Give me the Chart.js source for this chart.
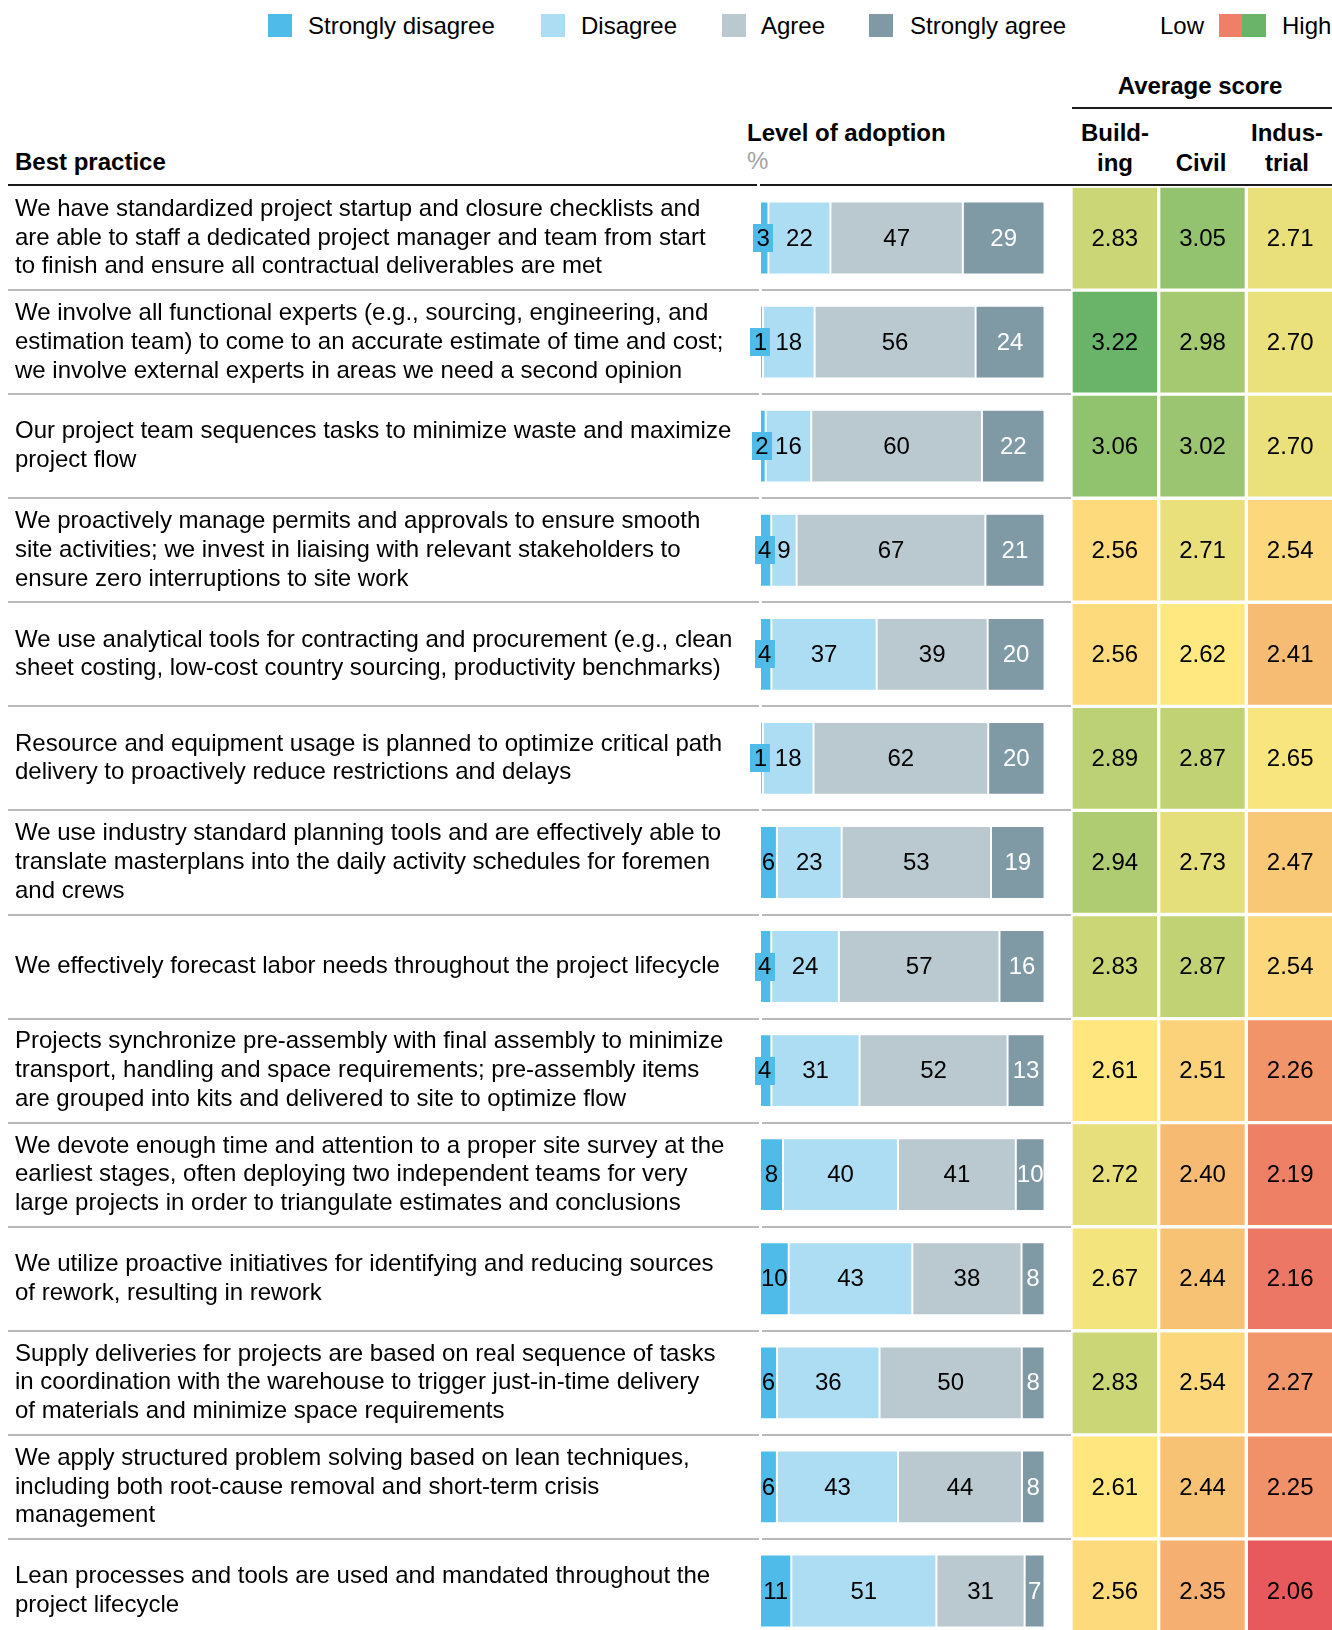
<!DOCTYPE html>
<html>
<head>
<meta charset="utf-8">
<title>Best practice adoption</title>
<script src="https://cdn.jsdelivr.net/npm/chart.js@4.4.1/dist/chart.umd.min.js"></script>
<style>
  html, body { margin: 0; padding: 0; background: #fff; overflow: hidden; }
  body { width: 1332px; height: 1630px; position: relative; font-family: "Liberation Sans", Arial, sans-serif; font-size: 24px; color: #000; }
  .t { position: absolute; white-space: nowrap; line-height: 24px; }
  .b { font-weight: bold; }
  .sw { position: absolute; top: 14px; width: 24px; height: 23px; }
  .rule { position: absolute; height: 2px; background: #1a1a1a; }
  .col { position: absolute; top: 118px; width: 90px; text-align: center; font-weight: bold; line-height: 29.5px; }
  #barWrap { position: absolute; left: 0; top: 186px; }
  #heatWrap { position: absolute; left: 1071px; top: 186px; }
</style>
</head>
<body>

<!-- legend -->
<div class="sw" style="left:268px; background:#4FBBE8"></div><div class="t" style="left:308px; top:14px">Strongly disagree</div>
<div class="sw" style="left:541px; background:#ADDDF3"></div><div class="t" style="left:581px; top:14px">Disagree</div>
<div class="sw" style="left:722px; background:#BAC8CF"></div><div class="t" style="left:761px; top:14px">Agree</div>
<div class="sw" style="left:869px; background:#7F99A5"></div><div class="t" style="left:910px; top:14px">Strongly agree</div>
<div class="t" style="left:1160px; top:14px">Low</div>
<div class="sw" style="left:1219px; width:23px; background:#EF7F67"></div>
<div class="sw" style="left:1242px; background:#69B468"></div>
<div class="t" style="left:1282px; top:14px">High</div>

<!-- column headers -->
<div class="t b" style="left:1070px; width:260px; text-align:center; top:74px">Average score</div>
<div class="rule" style="left:1072px; width:260px; top:107px"></div>
<div class="t b" style="left:15px; top:150px">Best practice</div>
<div class="t b" style="left:747px; top:121px">Level of adoption</div>
<div class="t" style="left:747px; top:149px; color:#a3a3a3">%</div>
<div class="col" style="left:1070px">Build-<br>ing</div>
<div class="col" style="left:1156px"><br>Civil</div>
<div class="col" style="left:1242px">Indus-<br>trial</div>
<div class="rule" style="left:8px; width:749px; top:184px"></div>
<div class="rule" style="left:760px; width:572px; top:184px"></div>

<div id="barWrap"><canvas id="adoption" width="1073" height="1457" style="width:1073px;height:1457px"></canvas></div>
<div id="heatWrap"><canvas id="scores" width="263" height="1457" style="width:263px;height:1457px"></canvas></div>

<script>
const FONT = '"Liberation Sans", Arial, sans-serif';
Chart.defaults.font.family = FONT;

// best practices, one entry per row (already broken into lines)
const practices = [
  ["We have standardized project startup and closure checklists and", "are able to staff a dedicated project manager and team from start", "to finish and ensure all contractual deliverables are met"],
  ["We involve all functional experts (e.g., sourcing, engineering, and", "estimation team) to come to an accurate estimate of time and cost;", "we involve external experts in areas we need a second opinion"],
  ["Our project team sequences tasks to minimize waste and maximize", "project flow"],
  ["We proactively manage permits and approvals to ensure smooth", "site activities; we invest in liaising with relevant stakeholders to", "ensure zero interruptions to site work"],
  ["We use analytical tools for contracting and procurement (e.g., clean", "sheet costing, low-cost country sourcing, productivity benchmarks)"],
  ["Resource and equipment usage is planned to optimize critical path", "delivery to proactively reduce restrictions and delays"],
  ["We use industry standard planning tools and are effectively able to", "translate masterplans into the daily activity schedules for foremen", "and crews"],
  ["We effectively forecast labor needs throughout the project lifecycle"],
  ["Projects synchronize pre-assembly with final assembly to minimize", "transport, handling and space requirements; pre-assembly items", "are grouped into kits and delivered to site to optimize flow"],
  ["We devote enough time and attention to a proper site survey at the", "earliest stages, often deploying two independent teams for very", "large projects in order to triangulate estimates and conclusions"],
  ["We utilize proactive initiatives for identifying and reducing sources", "of rework, resulting in rework"],
  ["Supply deliveries for projects are based on real sequence of tasks", "in coordination with the warehouse to trigger just-in-time delivery", "of materials and minimize space requirements"],
  ["We apply structured problem solving based on lean techniques,", "including both root-cause removal and short-term crisis", "management"],
  ["Lean processes and tools are used and mandated throughout the", "project lifecycle"]
];

// level of adoption, % of respondents
const stronglyDisagree = [3, 1, 2, 4, 4, 1, 6, 4, 4, 8, 10, 6, 6, 11];
const disagree         = [22, 18, 16, 9, 37, 18, 23, 24, 31, 40, 43, 36, 43, 51];
const agree            = [47, 56, 60, 67, 39, 62, 53, 57, 52, 41, 38, 50, 44, 31];
const stronglyAgree    = [29, 24, 22, 21, 20, 20, 19, 16, 13, 10, 8, 8, 8, 7];

// average score by sector
const building   = [2.83, 3.22, 3.06, 2.56, 2.56, 2.89, 2.94, 2.83, 2.61, 2.72, 2.67, 2.83, 2.61, 2.56];
const civil      = [3.05, 2.98, 3.02, 2.71, 2.62, 2.87, 2.73, 2.87, 2.51, 2.40, 2.44, 2.54, 2.44, 2.35];
const industrial = [2.71, 2.70, 2.70, 2.54, 2.41, 2.65, 2.47, 2.54, 2.26, 2.19, 2.16, 2.27, 2.25, 2.06];

const seriesNames  = ["Strongly disagree", "Disagree", "Agree", "Strongly agree"];
const seriesValues = [stronglyDisagree, disagree, agree, stronglyAgree];
const seriesColors = ["#4FBBE8", "#ADDDF3", "#BAC8CF", "#7F99A5"];
const sectorNames  = ["Building", "Civil", "Industrial"];
const sectorScores = [building, civil, industrial];

// low -> high colour ramp for the scores
const scoreStops = [
  [2.06, [232, 89, 93]],
  [2.35, [245, 175, 112]],
  [2.62, [255, 232, 127]],
  [3.22, [105, 180, 104]]
];

function scoreColor(v) {
  for (let i = 1; i < scoreStops.length; i++) {
    const [v0, c0] = scoreStops[i - 1];
    const [v1, c1] = scoreStops[i];
    if (v <= v1 || i === scoreStops.length - 1) {
      const t = Math.max(0, Math.min(1, (v - v0) / (v1 - v0)));
      const c = c0.map((x, j) => Math.round(x + (c1[j] - x) * t));
      return `rgb(${c.join(',')})`;
    }
  }
}

// rows don't always add to exactly 100, so each bar is stretched to full width
const rowTotals = stronglyDisagree.map((v, i) => v + disagree[i] + agree[i] + stronglyAgree[i]);
const share = arr => arr.map((v, i) => v / rowTotals[i] * 100);

// numbers inside the bar segments
const barLabels = {
  id: 'barLabels',
  afterDatasetsDraw(chart) {
    const ctx = chart.ctx;
    ctx.save();
    ctx.font = `24px ${FONT}`;
    ctx.textAlign = 'center';
    ctx.textBaseline = 'middle';
    chart.data.datasets.forEach((ds, k) => {
      chart.getDatasetMeta(k).data.forEach((bar, i) => {
        const v = ds.counts[i];
        let cx = (bar.x + bar.base) / 2;
        const cy = bar.y;
        if (k === 0 && v < 5) {
          // too thin for the number, give it a tab
          cx -= 1;
          ctx.fillStyle = ds.backgroundColor;
          ctx.fillRect(Math.round(cx - 10), Math.round(cy - 14), 20, 28);
        }
        ctx.fillStyle = k === 3 ? '#fff' : '#000';
        ctx.fillText(String(v), cx, cy + 1);
      });
    });
    ctx.restore();
  }
};

const scoreLabels = {
  id: 'scoreLabels',
  afterDatasetsDraw(chart) {
    const ctx = chart.ctx;
    ctx.save();
    ctx.font = `24px ${FONT}`;
    ctx.textAlign = 'center';
    ctx.textBaseline = 'middle';
    ctx.fillStyle = '#000';
    chart.data.datasets.forEach((ds, k) => {
      chart.getDatasetMeta(k).data.forEach((cell, i) => {
        ctx.fillText(ds.scores[i].toFixed(2), (cell.x + cell.base) / 2, cell.y + 1);
      });
    });
    ctx.restore();
  }
};

const adoptionChart = new Chart(document.getElementById('adoption'), {
  type: 'bar',
  data: {
    labels: practices,
    datasets: seriesNames.map((name, k) => ({
      label: name,
      data: share(seriesValues[k]),
      counts: seriesValues[k],
      backgroundColor: seriesColors[k],
      borderColor: '#fff',
      borderWidth: 1,
      borderSkipped: false,
      barPercentage: 0.7,
      categoryPercentage: 1
    }))
  },
  options: {
    indexAxis: 'y',
    responsive: false,
    animation: false,
    layout: { padding: { left: 15, right: 0, top: 0, bottom: 0 } },
    plugins: { legend: { display: false }, tooltip: { enabled: false } },
    scales: {
      x: { stacked: true, display: false, min: 0, max: 110 },
      y: {
        stacked: true,
        grid: {
          offset: true,
          color: c => c.index === 0 ? 'rgba(0,0,0,0)' : '#b9b9b9',
          lineWidth: 2,
          tickLength: 752
        },
        border: { display: true, color: '#fff', width: 3 },
        ticks: {
          crossAlign: 'far',
          autoSkip: false,
          padding: 0,
          color: '#000',
          font: { family: FONT, size: 24, lineHeight: 1.2 }
        },
        afterFit: s => { s.width = 745; s.paddingTop = 0; s.paddingBottom = 0; }
      }
    }
  },
  plugins: [barLabels]
});

const scoreChart = new Chart(document.getElementById('scores'), {
  type: 'bar',
  data: {
    labels: practices.map((p, i) => i + 1),
    datasets: sectorNames.map((name, c) => ({
      label: name,
      data: sectorScores[c].map(() => [c, c + 1]),
      scores: sectorScores[c],
      backgroundColor: sectorScores[c].map(scoreColor),
      borderColor: '#fff',
      borderWidth: 2,
      borderSkipped: false,
      barPercentage: 1,
      categoryPercentage: 1,
      grouped: false
    }))
  },
  options: {
    indexAxis: 'y',
    responsive: false,
    animation: false,
    layout: { padding: 0 },
    plugins: { legend: { display: false }, tooltip: { enabled: false } },
    scales: {
      x: { display: false, min: 0, max: 3 },
      y: { display: false }
    }
  },
  plugins: [scoreLabels]
});
</script>
</body>
</html>
